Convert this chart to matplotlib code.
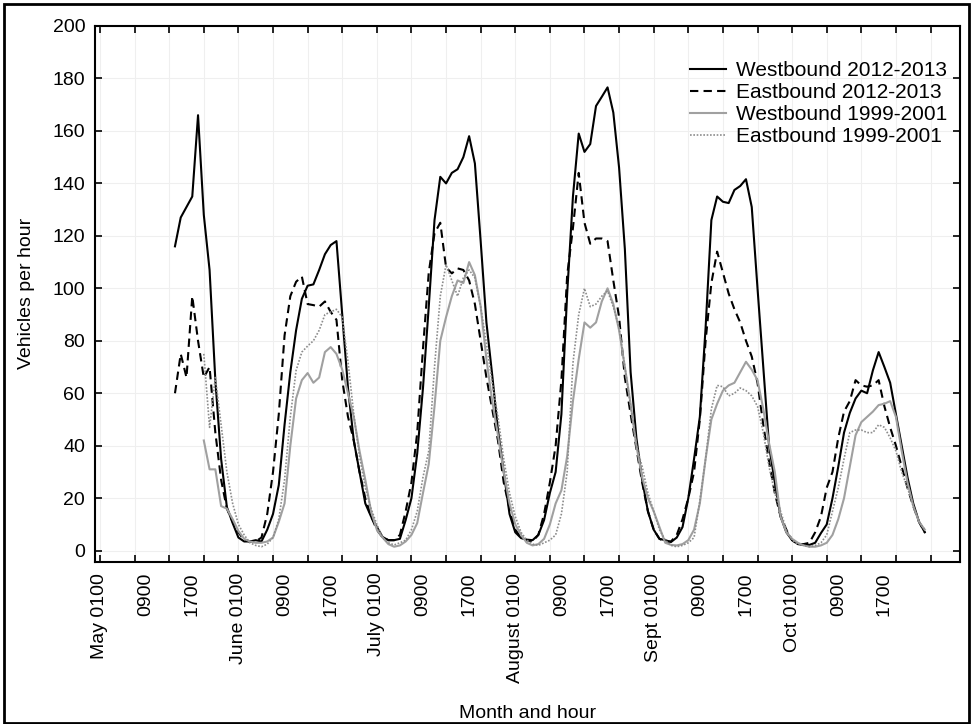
import numpy as np
import matplotlib.pyplot as plt
from matplotlib.patches import Rectangle

nan = np.nan

# months on the x axis, 24 hourly values each (0100 .. 2400)
months = ['May', 'June', 'July', 'August', 'Sept', 'Oct']
label_hours = ['0100', '0900', '1700']

west_2012 = [
    nan, nan, nan, nan, nan, nan, nan, nan, nan, nan, nan, nan, nan, 116, 127, 131, 135, 166, 128, 107, 65, 35, 16.6, 10.5,  # May
    5, 3.5, 3.5, 4, 3.5, 8, 14, 25, 48, 68, 84, 96, 101, 101.5, 107, 113, 116.5, 118, 90, 62, 42, 30, 18, 13,  # June
    9, 5.2, 4, 4, 4.5, 11.7, 20, 37, 62, 93, 126, 142.5, 140, 144, 145.4, 150, 158, 147.6, 118, 87, 67, 46, 30, 14,  # July
    7, 4.8, 4.2, 4, 6, 11.7, 22, 30, 52, 98, 135, 159, 152, 155, 169.5, 173, 176.6, 167, 146, 115, 68, 43, 27, 15,  # August
    8, 4.5, 4, 3.3, 5, 9, 20, 35, 51, 85, 126, 135, 133, 132.5, 137.5, 139, 141.6, 131, 100, 70, 40, 26, 13, 7,  # Sept
    4, 2.5, 2.2, 2.2, 3, 6.7, 10, 20, 32, 45, 52.5, 58, 61, 60, 68.7, 75.7, 70, 64, 52, 40, 28, 18, 11, 7,  # Oct
]

east_2012 = [
    nan, nan, nan, nan, nan, nan, nan, nan, nan, nan, nan, nan, nan, 60, 75, 66, 97, 80, 66, 70, 45, 27, 16, 11,
    7, 4, 3.5, 3.5, 5, 14, 30, 52, 82, 97, 102.5, 104.5, 94, 93.6, 93, 95, 91, 88, 65, 51, 42, 30, 20, 13,
    8, 5, 4, 4, 6, 15, 26, 45, 77, 106, 121, 125, 108, 105.7, 107.6, 107, 103, 94, 80, 66, 54, 42, 26, 16,
    8, 5, 4, 3.5, 6, 14, 26, 40, 65, 105, 123, 144, 125, 117, 119, 119, 118, 103, 89, 66, 52, 39, 26, 15,
    8, 4.5, 3.5, 3.5, 6, 12, 20, 30, 50, 80, 102, 114, 106, 98, 92, 87, 80, 74, 64, 48, 34, 22, 13, 8,
    4, 2.5, 2.5, 3, 7, 13, 24, 30, 43, 53, 57, 65, 63, 62.5, 63, 65, 55, 47, 40, 32, 24, 17, 11, 7,
]

west_1999 = [
    nan, nan, nan, nan, nan, nan, nan, nan, nan, nan, nan, nan, nan, nan, nan, nan, nan, nan, 42, 31, 31, 17, 16, 12,
    7.5, 4.5, 3.5, 3, 3, 3.5, 5, 11, 18, 40, 58, 65, 67.7, 64, 66, 75.7, 77.6, 75, 69, 60, 51, 38, 27, 15,
    8, 5, 2.5, 1.5, 2, 3.5, 6, 10.5, 22, 33, 55, 80, 89, 97, 103, 102, 110, 105, 93, 73, 57, 44, 30, 18,
    10, 6, 3, 2, 2.5, 4.5, 10, 18, 23, 36, 57, 73, 87, 85, 87, 95, 100, 94, 84, 70, 56, 40, 28, 20,
    15, 9, 3, 2.2, 2, 2.5, 4, 8, 18, 35, 50, 56, 61, 63, 64, 68, 72, 69, 65, 54, 41, 30, 13, 7,
    4.5, 3, 2, 1.5, 1.5, 2, 3, 6, 12, 20, 32, 44, 49, 51, 53, 55.5, 56, 57, 51, 38, 26, 17, 11, 8,
]

east_1999 = [
    nan, nan, nan, nan, nan, nan, nan, nan, nan, nan, nan, nan, nan, nan, nan, nan, nan, nan, 75, 47, 66, 48, 30, 18,
    10, 6, 3, 2, 1.5, 2.5, 5, 12, 27, 51, 68.7, 75.7, 78, 80, 84, 90, 91, 92, 89, 72, 52, 36, 24, 16,
    10, 5, 3, 2.2, 3, 4, 8, 15, 28, 38, 70, 97, 109, 103, 97, 104, 107, 104, 93, 79, 64, 51, 35, 22,
    13, 7, 4, 2.5, 2, 3, 4, 6, 14, 30, 71.5, 90, 100, 93, 94, 97, 99, 93, 85, 70, 55, 40, 32, 22,
    15, 8, 4, 2, 1.5, 2, 3, 5, 19, 35, 54, 63, 62.5, 59, 60, 62, 61, 59, 55, 45, 32, 22, 15, 8,
    4, 2.5, 2, 1.5, 2, 3, 6, 15, 24, 35, 45, 46, 46, 45, 45, 48, 47, 43, 38, 30, 24, 17, 11, 8,
]

x = np.arange(len(west_2012))

plt.rcParams['font.family'] = ['Liberation Sans', 'DejaVu Sans']
fig = plt.figure(figsize=(9.73, 7.24), dpi=100)
ax = fig.add_axes([0.0976, 0.2242, 0.8890, 0.7399])

ax.plot(x, west_2012, color='black', lw=1.5, label='Westbound 2012-2013')
ax.plot(x, east_2012, color='black', lw=1.5, linestyle=(0, (4, 2.5)), label='Eastbound 2012-2013')
ax.plot(x, west_1999, color='#a0a0a0', lw=1.5, label='Westbound 1999-2001')
ax.plot(x, east_1999, color='#8c8c8c', lw=1.2, linestyle=(0, (1, 1)), label='Eastbound 1999-2001')

ax.set_xlim(-0.87, 149.1)
ax.set_ylim(-4.2, 200)
ax.set_yticks(range(0, 201, 20))

# ticks every 6 hours, labels every 8 hours
ax.xaxis.remove_overlapping_locs = False
ax.set_xticks(np.arange(0, 145, 6))
ax.set_xticklabels([])
tick_labels = []
for m in months:
    tick_labels += [m + ' ' + label_hours[0], label_hours[1], label_hours[2]]
ax.set_xticks(np.arange(0, 24 * len(months), 8), minor=True)
ax.set_xticklabels(tick_labels, minor=True, rotation=90, fontsize=14)
ax.tick_params(axis='x', which='minor', length=0, pad=8)
ax.tick_params(which='major', direction='in', length=5, width=1.2,
               top=True, right=True, labelsize=14, pad=7)

ax.grid(True, which='major', color='#efefef', lw=0.8)
ax.set_axisbelow(True)
for s in ax.spines.values():
    s.set_linewidth(1.5)

ax.set_ylabel('Vehicles per hour', fontsize=14)
ax.yaxis.set_label_coords(-0.069, 0.5)
ax.set_xlabel('Month and hour', fontsize=14)
ax.xaxis.set_label_coords(0.5, -0.2675)

ax.legend(loc='upper left', bbox_to_anchor=(0.709, 0.916), bbox_transform=fig.transFigure,
          frameon=False, fontsize=15, handlelength=1.75, handletextpad=0.45,
          labelspacing=0.15, borderpad=0, borderaxespad=0)

# outer frame round the whole picture
fig.patches.append(Rectangle((4 / 973, 1.5 / 724), 965 / 973, 718.5 / 724,
                             transform=fig.transFigure, fill=False, lw=2, ec='black'))

fig.savefig('out.png', dpi=100)
